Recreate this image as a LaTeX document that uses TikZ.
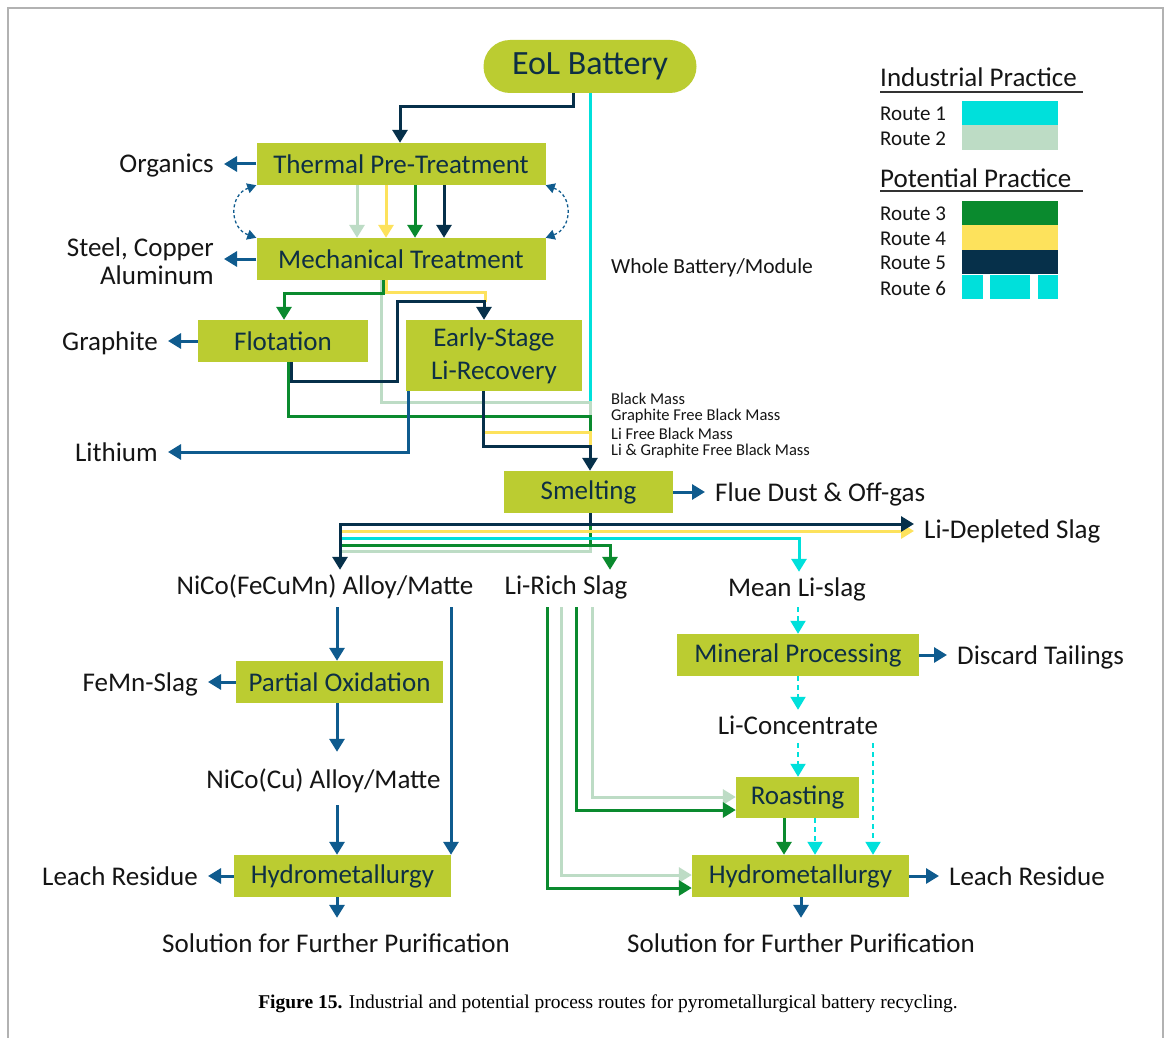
\documentclass[tikz,border=0pt]{standalone}
\usepackage{fontspec}
\setmainfont{Carlito}
\newfontfamily\capfont{Liberation Serif}
\usetikzlibrary{arrows.meta,calc}
\definecolor{boxc}{HTML}{BBCC31}
\definecolor{boxt}{HTML}{0E2F44}
\definecolor{cA}{HTML}{00E0DB}
\definecolor{cB}{HTML}{BDDCC5}
\definecolor{cC}{HTML}{0A8A2E}
\definecolor{cD}{HTML}{FDE25C}
\definecolor{cE}{HTML}{06304A}
\definecolor{cO}{HTML}{0F5B8E}
\definecolor{txt}{HTML}{151515}
\begin{document}
\begin{tikzpicture}[x=1pt,y=-1pt,
  >={Triangle[length=13pt,width=15pt]},
  box/.style={fill=boxc,text=boxt,inner sep=0pt,font=\fontsize{27}{33}\selectfont},
  pill/.style={fill=boxc,text=boxt,inner sep=0pt,rounded corners=26.5pt,font=\fontsize{34}{40}\selectfont},
  lbl/.style={inner xsep=10pt,inner ysep=2pt,text height=22pt,text depth=4pt,text=txt,font=\fontsize{27}{28}\selectfont},
  small/.style={inner sep=0pt,text=txt,font=\fontsize{16.5}{18}\selectfont},
  leg/.style={inner sep=0pt,text=txt,font=\fontsize{27}{30}\selectfont},
  legr/.style={inner sep=0pt,text=txt,font=\fontsize{21}{24}\selectfont},
  route/.style={line width=3pt},
  rA/.style={route,draw=cA},
  rB/.style={route,draw=cB},
  rC/.style={route,draw=cC},
  rD/.style={route,draw=cD},
  rE/.style={route,draw=cE},
  rF/.style={line width=2pt,draw=cA,dash pattern=on 5pt off 4pt},
  ob/.style={route,draw=cO},
  dcurve/.style={draw=cO,line width=1.3pt,dash pattern=on 3pt off 2.5pt,
     {Triangle[length=9pt,width=10pt]}-{Triangle[length=9pt,width=10pt]}}
]
\useasboundingbox (0,0) rectangle (1168,1038);
\fill[white] (0,0) rectangle (1168,1038);
\draw[gray!60,line width=1.5pt] (8,1040) -- (8,8) -- (1163,8) -- (1163,1040);

% process boxes
\node[pill,minimum width=213pt,minimum height=53pt] (eol) at (590,66.5) {EoL Battery};
\node[box,minimum width=289pt,minimum height=42pt] (thermal) at (401,164) {Thermal Pre-Treatment};
\node[box,minimum width=289pt,minimum height=42pt] (mech) at (401,259) {Mechanical Treatment};
\node[box,minimum width=170pt,minimum height=42pt] (flot) at (283,341) {Flotation};
\node[box,minimum width=176pt,minimum height=71pt,align=center] (early) at (494,355.5) {Early-Stage\\Li-Recovery};
\node[box,minimum width=169pt,minimum height=42pt] (smelt) at (588.5,492) {Smelting};
\node[box,minimum width=207pt,minimum height=42pt] (partox) at (339.5,682) {Partial Oxidation};
\node[box,minimum width=217pt,minimum height=42pt] (hydroL) at (342.5,876) {Hydrometallurgy};
\node[box,minimum width=242pt,minimum height=42pt] (mineral) at (798,655) {Mineral Processing};
\node[box,minimum width=123pt,minimum height=41pt] (roast) at (797.5,797.5) {Roasting};
\node[box,minimum width=217pt,minimum height=42pt] (hydroR) at (800.5,876) {Hydrometallurgy};

% labels
\node[lbl,anchor=east] (organics) at (224,164) {Organics};
\node[lbl,anchor=east,align=right,text height=,text depth=,inner ysep=0pt] (steel) at (224,261) {Steel, Copper\\Aluminum};
\node[lbl,anchor=east] (graphite) at (168,341) {Graphite};
\node[lbl,anchor=east] (lithium) at (168,452) {Lithium};
\node[inner sep=0pt,text=txt,font=\fontsize{21.5}{24}\selectfont,anchor=west] (whole) at (611,268) {Whole Battery/Module};
\node[small,anchor=west] (bm1) at (611,399) {Black Mass};
\node[small,anchor=west] (bm2) at (611,416) {Graphite Free Black Mass};
\node[small,anchor=west] (bm3) at (611,434) {Li Free Black Mass};
\node[small,anchor=west] (bm4) at (611,451) {Li \& Graphite Free Black Mass};
\node[lbl,anchor=west] (flue) at (705,492) {Flue Dust \& Off-gas};
\node[lbl,anchor=west] (lidep) at (914,529) {Li-Depleted Slag};
\node[lbl] (alloy) at (325,585) {NiCo(FeCuMn) Alloy/Matte};
\node[lbl] (lirich) at (566,585) {Li-Rich Slag};
\node[lbl] (mean) at (797,587) {Mean Li-slag};
\node[lbl,anchor=east] (femn) at (208,682) {FeMn-Slag};
\node[lbl] (nicocu) at (323.5,779) {NiCo(Cu) Alloy/Matte};
\node[lbl,anchor=east] (leachL) at (208,876) {Leach Residue};
\node[lbl] (solL) at (336,943) {Solution for Further Purification};
\node[lbl,anchor=west] (discard) at (947,655) {Discard Tailings};
\node[lbl] (licon) at (798,725) {Li-Concentrate};
\node[lbl,anchor=west] (leachR) at (939,876) {Leach Residue};
\node[lbl] (solR) at (801,943) {Solution for Further Purification};

% top routes
\draw[rA] (eol.south -| 590,0) -- (590,402);
\draw[rE,->] (eol.south -| 573,0) |- (400,107) -- (thermal.north -| 400,0);
\draw[rB,->] (thermal.south -| 357,0) -- (mech.north -| 357,0);
\draw[rD,->] (thermal.south -| 386,0) -- (mech.north -| 386,0);
\draw[rC,->] (thermal.south -| 415,0) -- (mech.north -| 415,0);
\draw[rE,->] (thermal.south -| 444,0) -- (mech.north -| 444,0);
\draw[dcurve] (thermal.south west) .. controls (229,195) and (229,228) .. (mech.north west);
\draw[dcurve] (thermal.south east) .. controls (573,195) and (573,228) .. (mech.north east);
\draw[ob,->] (thermal.west) -- (organics.east);
\draw[ob,->] (mech.west) -- (steel.east |- mech.west);

% mechanical -> flotation / early-stage / black mass
\draw[rB] (mech.south -| 381,0) -- (381,402) -- (590,402) -- (590,416);
\draw[rD] (mech.south -| 386,0) -- (386,292) -- (485,292) -- (485,302);
\draw[rC,->] (mech.south -| 383.5,0) -- (383.5,293) -- (284,293) -- (flot.north -| 284,0);
\draw[rC] (flot.south -| 288,0) -- (288,416) -- (590,416) -- (590,432);
\draw[rE,->] (flot.south -| 291.5,0) -- (291.5,381) -- (397,381) -- (397,301) -- (484,301) -- (early.north -| 484,0);
\draw[ob,->] (flot.west) -- (graphite.east);
\draw[ob,->] (early.south -| 408,0) -- (408,452) -- (lithium.east);
\draw[rD] (early.south -| 483,0) -- (483,432) -- (590,432) -- (590,446);
\draw[rE,->] (early.south -| 483,0) -- (483,446) -- (590,446) -- (smelt.north -| 590,0);
\draw[ob,->] (smelt.east) -- (flue.west);

% smelting outputs
\draw[rB] (590,545) -- (590,551) -- (341.5,551);
\draw[rC] (590,524) -- (590,545) -- (341.5,545);
\draw[rC,->] (590,545) -- (610,545) -- (lirich.north -| 610,0);
\draw[rA,->] (341.5,538) -- (799,538) -- (mean.north -| 799,0);
\draw[rD,->] (341.5,531) -- (lidep.west |- 0,531);
\draw[rE,->] (590,524) -- (lidep.west |- 0,524);
\draw[rE,->] (smelt.south -| 590,0) -- (590,524) -- (340,524) -- (alloy.north -| 340,0);

% left branch
\draw[ob,->,shorten <=7pt] (alloy.south -| 337,0) -- (partox.north -| 337,0);
\draw[ob,->,shorten >=12pt] (partox.south -| 337,0) -- (nicocu.north -| 337,0);
\draw[ob,->,shorten <=11pt] (nicocu.south -| 337,0) -- (hydroL.north -| 337,0);
\draw[ob,->,shorten <=7pt] (alloy.south -| 451,0) -- (hydroL.north -| 451,0);
\draw[ob,->,shorten >=10pt] (hydroL.south -| 337,0) -- (solL.north -| 337,0);
\draw[ob,->] (partox.west) -- (femn.east);
\draw[ob,->] (hydroL.west) -- (leachL.east);

% right branch
\draw[rB,->,shorten <=7pt] (lirich.south -| 592,0) -- (592,797) -- (roast.west |- 0,797);
\draw[rC,->,shorten <=7pt] (lirich.south -| 576,0) -- (576,810) -- (roast.west |- 0,810);
\draw[rB,->,shorten <=7pt] (lirich.south -| 561,0) -- (561,875) -- (hydroR.west |- 0,875);
\draw[rC,->,shorten <=7pt] (lirich.south -| 547,0) -- (547,888) -- (hydroR.west |- 0,888);
\draw[rF,->,shorten <=5pt] (mean.south -| 798,0) -- (mineral.north -| 798,0);
\draw[rF,->] (mineral.south -| 798,0) -- (licon.north -| 798,0);
\draw[rF,->,shorten <=3pt] (licon.south -| 798,0) -- (roast.north -| 798,0);
\draw[rF,->,shorten <=3pt] (licon.south -| 873,0) -- (hydroR.north -| 873,0);
\draw[rF,->] (roast.south -| 815,0) -- (hydroR.north -| 815,0);
\draw[rC,->] (roast.south -| 784,0) -- (hydroR.north -| 784,0);
\draw[ob,->,shorten >=10pt] (hydroR.south -| 801,0) -- (solR.north -| 801,0);
\draw[ob,->] (mineral.east) -- (discard.west);
\draw[ob,->] (hydroR.east) -- (leachR.west);

% legend
\node[leg,anchor=west] (ind) at (880,77) {Industrial Practice};
\draw[gray!40!black,line width=1.2pt] (880,92) -- (1083,92);
\node[legr,anchor=west] (l1) at (880,114) {Route 1};
\node[legr,anchor=west] (l2) at (880,139) {Route 2};
\fill[cA] (962,101) rectangle (1058,125);
\fill[cB] (962,125) rectangle (1058,150);
\node[leg,anchor=west] (pot) at (880,178) {Potential Practice};
\draw[gray!40!black,line width=1.2pt] (880,191) -- (1083,191);
\node[legr,anchor=west] (l3) at (880,214) {Route 3};
\node[legr,anchor=west] (l4) at (880,239) {Route 4};
\node[legr,anchor=west] (l5) at (880,263) {Route 5};
\node[legr,anchor=west] (l6) at (880,288) {Route 6};
\fill[cC] (962,201) rectangle (1058,225);
\fill[cD] (962,225) rectangle (1058,250);
\fill[cE] (962,250) rectangle (1058,274);
\fill[cA] (962,275) rectangle (983,299);
\fill[cA] (990,275) rectangle (1030,299);
\fill[cA] (1038,275) rectangle (1058,299);

% caption
\node[inner sep=0pt,text=black,font=\capfont\fontsize{19.5}{22}\selectfont] (cap) at (608,1004)
  {\textbf{Figure 15.} Industrial and potential process routes for pyrometallurgical battery recycling.};
\end{tikzpicture}
\end{document}
